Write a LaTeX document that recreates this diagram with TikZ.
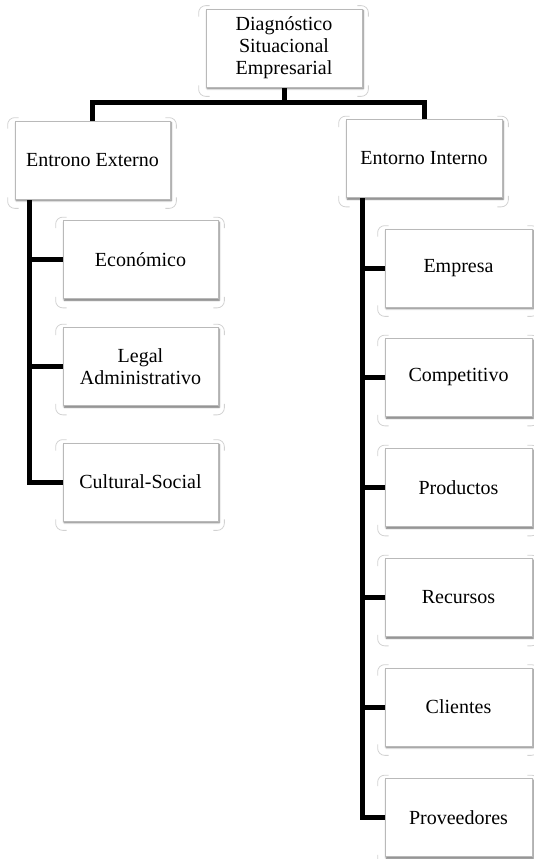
\documentclass[tikz,border=0pt]{standalone}
\usepackage{fontspec}
\setmainfont{Liberation Serif}
\usetikzlibrary{shadows.blur,backgrounds}

\tikzset{
  box/.style={draw=gray!55, line width=0.7pt, fill=white, align=center,
    minimum height=78pt, inner sep=2pt,
    font=\fontsize{20}{22}\selectfont,
    blur shadow={shadow xshift=1.2pt, shadow yshift=-1.6pt,
                 shadow blur radius=1.8pt, shadow opacity=60}},
  wide/.style={box, minimum width=155pt},
  narrow/.style={box, minimum width=147pt},
  conn/.style={line width=5pt, black},
  cornerline/.style={draw=gray!35, line width=0.8pt, rounded corners=7pt}
}

% faint rounded frame corners around a box
\newcommand\cornermarks[1]{%
  \draw[cornerline] ([xshift=-7pt,yshift=-8pt]#1.north west) -- ([xshift=-7pt,yshift=3pt]#1.north west) -- ([xshift=4pt,yshift=3pt]#1.north west);
  \draw[cornerline] ([xshift=-5pt,yshift=3pt]#1.north east) -- ([xshift=6pt,yshift=3pt]#1.north east) -- ([xshift=6pt,yshift=-8pt]#1.north east);
  \draw[cornerline] ([xshift=-7pt,yshift=2pt]#1.south west) -- ([xshift=-7pt,yshift=-9pt]#1.south west) -- ([xshift=4pt,yshift=-9pt]#1.south west);
  \draw[cornerline] ([xshift=-5pt,yshift=-9pt]#1.south east) -- ([xshift=6pt,yshift=-9pt]#1.south east) -- ([xshift=6pt,yshift=2pt]#1.south east);
}

\begin{document}
\begin{tikzpicture}[x=1pt,y=-1pt]
\useasboundingbox (0,0) rectangle (534,859);

% root and the two main branches
\node[wide, minimum width=156pt] (top) at (284,48) {Diagnóstico\\Situacional\\Empresarial};
\node[wide] (ext) at (92.5,160) {Entrono Externo};
\node[wide, minimum width=156pt] (int) at (424,158.5) {Entorno Interno};

% external environment
\node[wide] (eco) at (140.5,259.5) {Económico};
\node[wide] (leg) at (140.5,366.5) {Legal\\Administrativo};
\node[wide] (cul) at (140.5,482) {Cultural-Social};

% internal environment
\node[narrow] (emp) at (458.5,268) {Empresa};
\node[narrow] (com) at (458.5,377.5) {Competitivo};
\node[narrow] (pro) at (458.5,487.5) {Productos};
\node[narrow] (rec) at (458.5,597.5) {Recursos};
\node[narrow] (cli) at (458.5,707) {Clientes};
\node[narrow] (prv) at (458.5,817.5) {Proveedores};

\foreach \n in {top,ext,int,eco,leg,cul,emp,com,pro,rec,cli,prv}{\cornermarks{\n}}

\begin{scope}[on background layer]
  \coordinate (bar) at (284,102);
  \draw[conn] (top.south) -- (bar);
  \draw[conn] (ext.north) |- (bar) -| (int.north);

  \coordinate (extspine) at ([xshift=15pt]ext.south west);
  \draw[conn] (extspine) |- (eco.west);
  \draw[conn] (extspine) |- (leg.west);
  \draw[conn] (extspine) |- (cul.west);

  \coordinate (intspine) at ([xshift=17pt]int.south west);
  \foreach \n in {emp,com,pro,rec,cli,prv}{\draw[conn] (intspine) |- (\n.west);}
\end{scope}
\end{tikzpicture}
\end{document}
